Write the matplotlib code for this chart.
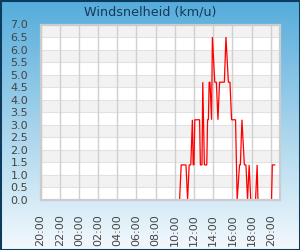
import matplotlib
matplotlib.use("Agg")
import matplotlib.pyplot as plt
import numpy as np
from matplotlib.colors import LinearSegmentedColormap
from matplotlib.patches import Rectangle

# ---- data ----
title = "Windsnelheid (km/u)"
times = ["20:00", "10:30", "10:40", "11:10", "11:20", "11:30", "11:40", "11:50",
         "11:55", "12:00", "12:05", "12:35", "12:40", "12:50", "12:55", "13:05",
         "13:20", "13:25", "13:30", "13:35", "13:40", "13:50", "13:55", "14:10",
         "14:20", "14:30", "14:40", "15:10", "15:20", "15:35", "15:45", "15:55",
         "16:20", "16:30", "16:45", "16:50", "17:00", "17:15", "17:25", "17:35",
         "17:45", "17:55", "18:25", "18:35", "18:40", "20:05", "20:10", "20:25"]
speeds = [0.0, 0.0, 1.4, 1.4, 0.0, 1.4, 1.4, 3.2,
          1.4, 1.4, 3.2, 3.2, 1.4, 1.4, 4.7, 1.4,
          1.4, 3.2, 3.2, 4.7, 4.7, 3.2, 6.5, 4.7,
          4.7, 3.2, 4.7, 4.7, 6.5, 4.7, 4.7, 3.2,
          3.2, 0.0, 1.4, 1.4, 3.2, 1.4, 1.4, 0.0,
          1.4, 0.0, 0.0, 1.4, 0.0, 0.0, 1.4, 1.4]
tick_labels = ["20:00", "22:00", "00:00", "02:00", "04:00", "06:00", "08:00",
               "10:00", "12:00", "14:00", "16:00", "18:00", "20:00"]
y_ticks = [0.0, 0.5, 1.0, 1.5, 2.0, 2.5, 3.0, 3.5, 4.0, 4.5, 5.0, 5.5, 6.0, 6.5, 7.0]

# convert clock times to minutes since first 20:00
mins = []
offset = 0
prev = -1
for t in times:
    hh, mm = map(int, t.split(":"))
    m = (hh * 60 + mm - 1200) % 1440 + offset
    if m < prev:
        offset += 1440
        m += 1440
    mins.append(m)
    prev = m
tick_pos = [i * 120 for i in range(len(tick_labels))]

W, H = 300, 250
fig = plt.figure(figsize=(W / 100, H / 100), dpi=100)

# background gradient
bg = fig.add_axes([0, 0, 1, 1], zorder=-10)
cmap = LinearSegmentedColormap.from_list("bg", ["#55acdb", "#a5d3ec", "#f3f9fd"])
grad = np.linspace(0, 1, 256).reshape(-1, 1)
bg.imshow(grad, aspect="auto", cmap=cmap, extent=[0, 1, 0, 1], origin="upper")
bg.set_xlim(0, 1)
bg.set_ylim(0, 1)
bg.axis("off")
bg.add_patch(Rectangle((0, 0), 1, 1, transform=bg.transAxes, fill=False,
                       edgecolor="#0d3b5e", linewidth=2.2, clip_on=False))

fig.text(0.5, 1 - 12 / H, title, ha="center", va="center", fontsize=9.2,
         color="#14395a")

left, right, top, bottom = 40.5, 280, 24.5, 200
ax = fig.add_axes([left / W, 1 - bottom / H, (right - left) / W, (bottom - top) / H])
ax.set_facecolor("white")

# alternating bands
for i in range(14):
    if i % 2 == 1:
        ax.axhspan(i * 0.5, (i + 1) * 0.5, color="#f2f2f2", zorder=0, lw=0)
for y in y_ticks:
    ax.axhline(y, color="#e2e2e2", lw=0.8, zorder=1)
for x in tick_pos:
    ax.axvline(x, color="#d0d0d0", lw=1.0, zorder=1)

ax.plot(mins, speeds, color="#ff0000", lw=0.9, zorder=3, solid_joinstyle="miter")

ax.set_xlim(0, 1498)
ax.set_ylim(0, 7.0)
ax.set_xticks(tick_pos)
ax.set_xticklabels(tick_labels, rotation=90, fontsize=8, color="#444444")
ax.set_yticks(y_ticks)
ax.set_yticklabels([f"{v:.1f}" for v in y_ticks], fontsize=8, color="#444444")
ax.tick_params(length=0, pad=9)
ax.tick_params(axis="x", pad=10)
for s in ax.spines.values():
    s.set_color("#cccccc")
    s.set_linewidth(1.6)
    s.set_zorder(5)

fig.savefig("out.png", dpi=100)
